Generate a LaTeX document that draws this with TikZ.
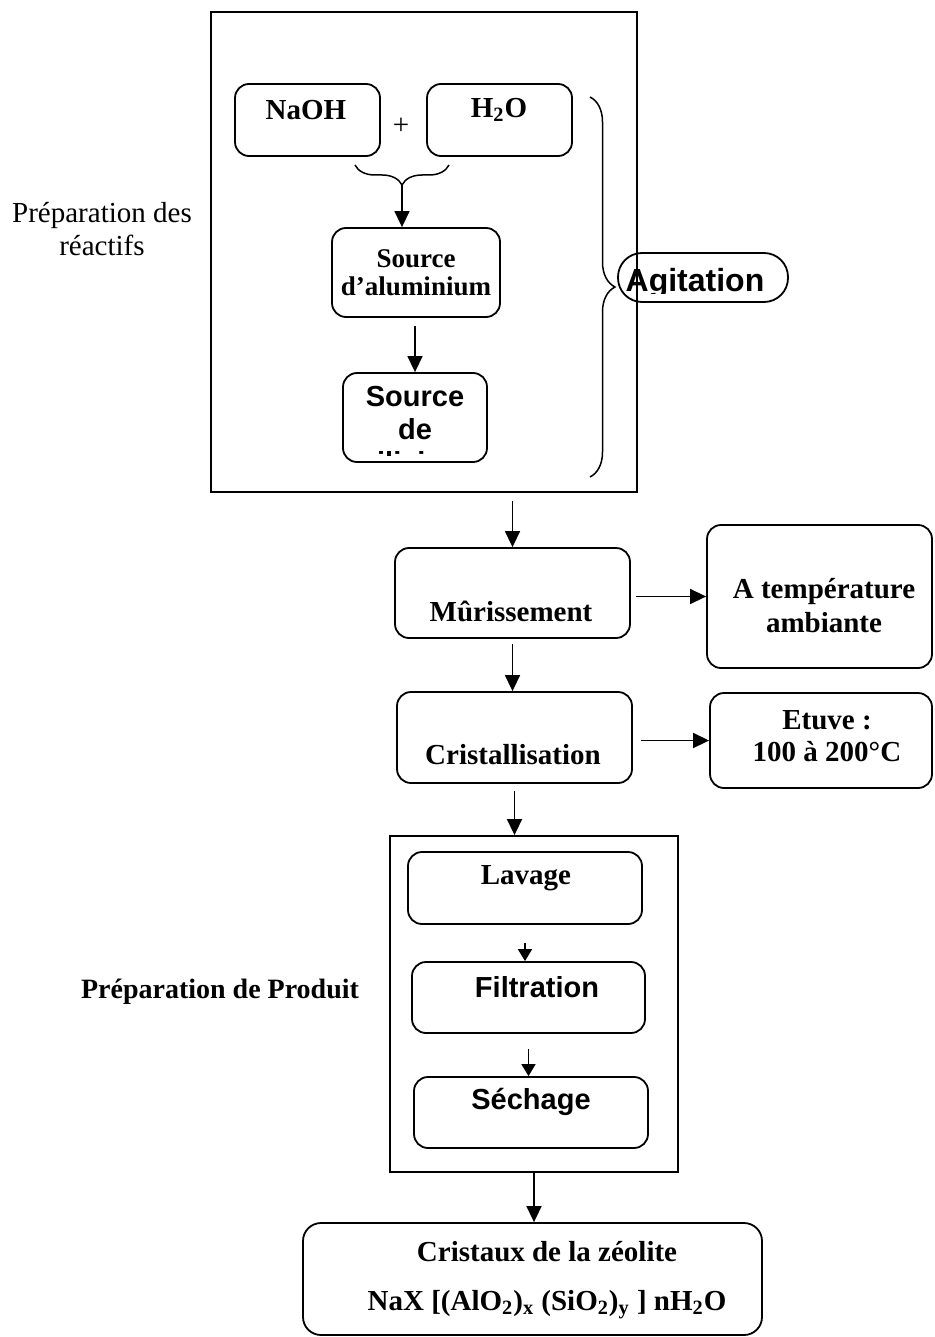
\documentclass[tikz,border=0pt]{standalone}
\usepackage{fontspec}
\setmainfont{Liberation Serif}
\setsansfont{Liberation Sans}
\usetikzlibrary{arrows.meta}
\usetikzlibrary{decorations.pathreplacing}
\tikzset{>={Triangle[width=7.5pt,length=8pt]}}
\newcommand{\GRAS}[1]{\textbf{#1}}

\begin{document}
\begin{tikzpicture}[x=0.5pt, y=-0.5pt, line width=0.9pt,
  etape/.style={draw, rounded corners=7pt, inner sep=0pt},
  cadre/.style={draw, inner sep=0pt},
  txt/.style={font=\bfseries, align=center},
  sanstxt/.style={font=\sffamily\bfseries, align=center},
  fleche/.style={->, line width=0.75pt},
  petite/.style={-{Triangle[width=7pt,length=6pt]}, line width=0.8pt},
  accolade/.style={decorate, decoration={brace, amplitude=#1}, line width=0.75pt}]

  \fontsize{14.5}{16.5}\selectfont
  \useasboundingbox (0,0) rectangle (934,1337); %% page

  %% preparation des reactifs
  \node[cadre, minimum width=213pt, minimum height=240pt] (reactifs) at (424,252) {};
  \node[align=center] (titreR) at (102,229) {Préparation des\\réactifs};

  \node[etape, minimum width=72.5pt, minimum height=36pt] (naoh) at (307.5,120) {};
  \node[txt] (naohT) at (306,110) {NaOH};
  \node[etape, minimum width=72.5pt, minimum height=36pt] (eau) at (499.5,120) {};
  \node[txt] (eauT) at (499,110) {H\textsubscript{2}O};
  \node (plus) at (401,126) {+};

  \draw[accolade=10pt] (449,165) -- (355,165);
  \coordinate (pointe) at (402,185);

  \node[etape, minimum width=84pt, minimum height=44.5pt, txt,
    font=\bfseries\fontsize{13.5}{14}\selectfont] (alu) at (416,272.5) {Source\\d’aluminium};
  \draw[fleche] (pointe) -- (pointe |- alu.north);

  \node[etape, minimum width=72pt, minimum height=44.5pt] (silice) at (415,417.5) {};
  \begin{scope}
    \clip (343,373) rectangle (487,455);
    \node[sanstxt] (siliceT) at (415,430) {Source\\de\\silicium};
  \end{scope}
  \draw[fleche, shorten <=4pt] (alu.south -| silice.north) -- (silice.north);

  \draw[accolade=12.5pt] (590,97) -- (590,477);
  \node[etape, rounded corners=12pt, minimum width=85pt, minimum height=24.5pt] (agit) at (703,277.5) {};
  \begin{scope}
    \clip (618,253) rectangle (788,293);
    \node[sanstxt, font=\sffamily\bfseries\fontsize{16}{18}\selectfont, anchor=base] (agitT) at (695,291) {Agitation};
  \end{scope}

  %% murissement, cristallisation
  \node[etape, minimum width=117.5pt, minimum height=45pt] (mur) at (512.5,593) {};
  \node[txt] (murT) at (511,611) {Mûrissement};
  \draw[fleche, shorten <=4pt] (mur.north |- reactifs.south) -- (mur.north);

  \node[etape, minimum width=112.5pt, minimum height=71.5pt] (temp) at (819.5,596.5) {};
  \node[txt, font=\bfseries\fontsize{14.5}{17}\selectfont] (tempT) at (824,606) {A température\\ambiante};
  \draw[fleche, shorten <=2.5pt] (temp.west -| mur.east) -- (temp.west);

  \node[etape, minimum width=117.5pt, minimum height=45.5pt] (crist) at (514.5,737.5) {};
  \node[txt] (cristT) at (513,755) {Cristallisation};
  \draw[fleche, shorten <=2.5pt] (mur.south) -- (mur.south |- crist.north);

  \node[etape, minimum width=111pt, minimum height=47.5pt] (etuve) at (821,740.5) {};
  \node[txt, font=\bfseries\fontsize{14.5}{16}\selectfont] (etuveT) at (827,736) {Etuve :\\100 à 200°C};
  \draw[fleche, shorten <=4pt] (etuve.west -| crist.east) -- (etuve.west);

  %% preparation de produit
  \node[cadre, minimum width=144pt, minimum height=168pt] (produit) at (534,1004) {};
  \node[txt, font=\bfseries\fontsize{14}{16}\selectfont] (titreP) at (220,992) {Préparation de Produit};
  \draw[fleche, shorten <=3.5pt] (crist.south) -- (crist.south |- produit.north);

  \node[etape, minimum width=117pt, minimum height=36pt] (lav) at (525,888) {};
  \node[txt] (lavT) at (526,878) {Lavage};
  \node[etape, minimum width=116.5pt, minimum height=35.5pt] (filt) at (528.5,997.5) {};
  \node[sanstxt] (filtT) at (537,987) {Filtration};
  \node[etape, minimum width=117pt, minimum height=35.5pt] (sech) at (531,1112.5) {};
  \node[sanstxt] (sechT) at (531,1102) {Séchage};

  \draw[petite, shorten <=9pt] (lav.south) -- (lav.south |- filt.north);
  \draw[petite, shorten <=7.5pt] (filt.south) -- (filt.south |- sech.north);

  %% produit final
  \node[etape, rounded corners=9pt, minimum width=229.5pt, minimum height=56pt] (cristaux) at (532.5,1279) {};
  \node[txt, font=\bfseries\fontsize{14.5}{24.5}\selectfont] (cristauxT) at (547,1280)
    {Cristaux de la zéolite\\NaX [(AlO\textsubscript{2})\textsubscript{x} (SiO\textsubscript{2})\textsubscript{y} ] nH\textsubscript{2}O};
  \draw[fleche] (produit.south) -- (produit.south |- cristaux.north);

\end{tikzpicture}
\end{document}
